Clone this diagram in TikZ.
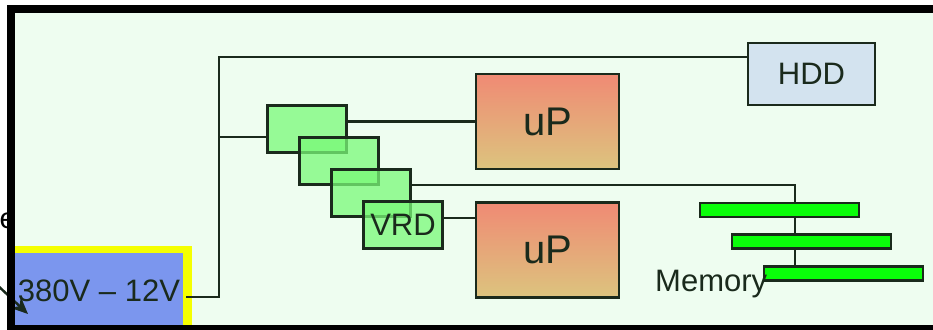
\documentclass[tikz,border=0pt]{standalone}
\usepackage{fontspec}
\setmainfont{Liberation Sans}
\usetikzlibrary{arrows.meta}
\definecolor{panel}{HTML}{EEFDF0}
\definecolor{ink}{HTML}{1A2A1C}
\definecolor{vrmfill}{RGB}{121,249,120}
\definecolor{cputop}{HTML}{F08A74}
\definecolor{cpubot}{HTML}{DCC47E}
\definecolor{disk}{HTML}{D3E3EF}
\definecolor{dimm}{HTML}{0AFF0A}
\definecolor{psublue}{HTML}{7B96EE}
\definecolor{psuedge}{HTML}{F5FF00}
\newcommand{\fs}[1]{\fontsize{#1}{#1}\selectfont}
\begin{document}
\begin{tikzpicture}[x=1pt,y=-1pt,
  wire/.style={draw=ink,line width=2.6pt},
  unit/.style={draw=ink,line width=2.8pt,inner sep=0pt,text=ink},
  vrm/.style={unit,fill=vrmfill,fill opacity=0.75,text opacity=1,
    minimum width=79pt,minimum height=47pt},
  cpu/.style={unit,top color=cputop,bottom color=cpubot,
    minimum width=143pt,minimum height=95pt,font=\fs{40}},
  stick/.style={unit,fill=dimm,minimum width=159pt,minimum height=14pt}]
\useasboundingbox (0,0) rectangle (933,329);
\clip (0,0) rectangle (933,329);
\fill[white] (0,0) rectangle (933,329);
\fill[panel] (11,9) rectangle (945,335);

% power supply
\fill[psuedge] (15,246) rectangle (192,335);
\fill[psublue] (15,253) rectangle (183,335);
\node[text=ink,font=\fs{31},inner xsep=6pt,inner ysep=0pt] (psu) at (99,291) {380V -- 12V};

% clipped label and arrow entering from the left
\node[anchor=base east,font=\fs{29},inner sep=0pt] (cut) at (16,228) {e};
\coordinate (arrfrom) at (-6,282);
\coordinate (arrto) at (28,314);
\draw[ink,line width=2.4pt,-{Stealth[length=17pt,width=15pt]}] (arrfrom) -- (arrto);

% loads
\node[unit,fill=disk,minimum width=127pt,minimum height=62pt,font=\fs{31}] (hdd) at (811.5,74) {HDD};
\node[cpu] (up1) at (547.5,121.5) {uP};
\node[cpu] (up2) at (547.5,250) {uP};

% regulator stack
\node[vrm] (g1) at (307,129) {};
\node[vrm] (g2) at (339,161) {};
\node[vrm] (g3) at (371,193) {};
\node[vrm,font=\fs{31}] (g4) at (403,225) {VRD};

% memory
\node[stick] (m1) at (779.5,210) {};
\node[stick] (m2) at (811.5,241.5) {};
\node[stick] (m3) at (843.5,273.5) {};
\node[anchor=base west,font=\fs{31},inner sep=0pt,text=ink] (memlbl) at (655,291) {Memory};

% 12V distribution
\coordinate (bus) at (219,57);
\coordinate (tap) at (219,137);
\coordinate (memrail) at (795,185);
\draw[wire] ([yshift=-6pt]psu.east) -| (bus) -- (bus -| hdd.west);
\draw[wire] (tap) -- (tap -| g1.west);
\draw[wire] (g1.east |- up1.west) -- (up1.west);
\draw[wire] (memrail -| g3.east) -- (memrail) -- (memrail |- m1.north);
\draw[wire] ([yshift=7pt]g4.east) -- ([yshift=7pt]g4.east -| up2.west);
\draw[wire] (memrail |- m1.south) -- (memrail |- m2.north);
\draw[wire] (memrail |- m2.south) -- (memrail |- m3.north);

% enclosure
\draw[black,line width=8pt] (11,9) rectangle (945,329);
\end{tikzpicture}
\end{document}
